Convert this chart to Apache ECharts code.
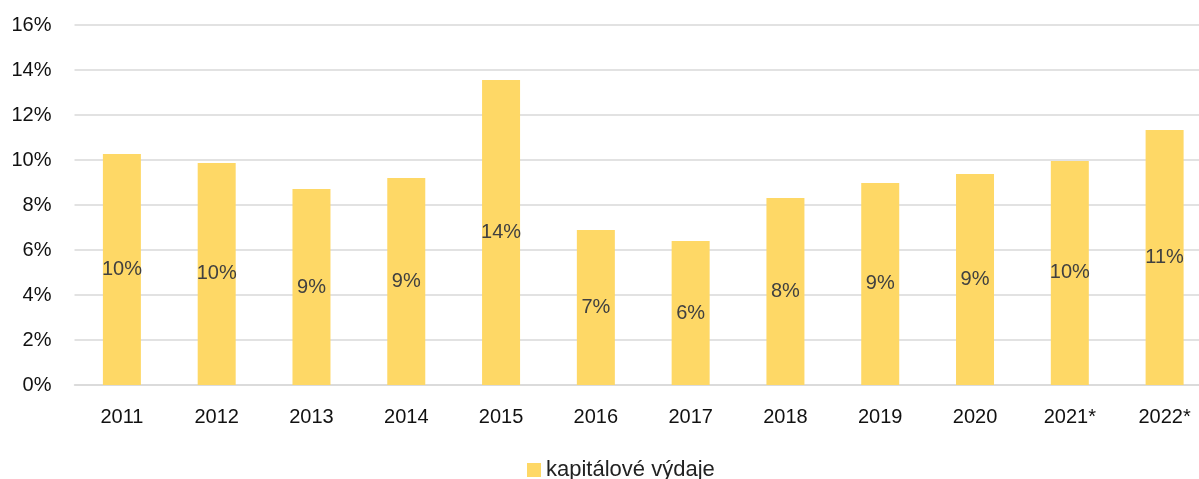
<!DOCTYPE html>
<html>
<head>
<meta charset="utf-8">
<script src="https://cdn.jsdelivr.net/npm/echarts@6/dist/echarts.min.js"></script>
<style>
  html, body { margin: 0; padding: 0; background: #fff; overflow: hidden; }
  /* plocha grafu v originále přesahuje vpravo za okraj obrázku */
  #chart { width: 1212px; height: 479px; }
</style>
</head>
<body>
<div id="chart"></div>
<script>
// roky (2021 a 2022 odhad)
var years = ['2011', '2012', '2013', '2014', '2015', '2016', '2017', '2018', '2019', '2020', '2021*', '2022*'];
// podíl kapitálových výdajů v %
var capex = [10.27, 9.87, 8.71, 9.2, 13.56, 6.89, 6.4, 8.31, 8.98, 9.38, 9.96, 11.33];
var seriesName = 'kapitálové výdaje';

var font = '"Liberation Sans", Arial, sans-serif';

var myChart = echarts.init(document.getElementById('chart'));
myChart.setOption({
    animation: false,
    textStyle: { fontFamily: font },
    grid: { left: 74.5, right: 0, top: 25, bottom: 94, containLabel: false },
    legend: {
        top: 459,
        left: 527,
        data: [seriesName],
        icon: 'rect',
        itemWidth: 14,
        itemHeight: 14,
        itemGap: 6,
        padding: 0,
        textStyle: { fontSize: 22, color: '#222', fontFamily: font }
    },
    xAxis: {
        type: 'category',
        data: years,
        axisLine: { lineStyle: { color: '#d9d9d9', width: 1.5 } },
        axisTick: { show: false },
        axisLabel: { fontSize: 20, color: '#111', margin: 22, fontFamily: font }
    },
    yAxis: {
        type: 'value',
        min: 0,
        max: 16,
        interval: 2,
        axisLine: { show: false },
        axisTick: { show: false },
        splitLine: { lineStyle: { color: '#d9d9d9', width: 1.5 } },
        axisLabel: { fontSize: 20, color: '#111', margin: 23, formatter: '{value}%', fontFamily: font }
    },
    series: [{
        name: seriesName,
        type: 'bar',
        data: capex,
        barWidth: 38,
        itemStyle: { color: '#FED866' },
        label: {
            show: true,
            position: 'inside',
            fontSize: 20,
            color: '#404040',
            fontFamily: font,
            formatter: function (p) { return Math.round(p.value) + '%'; }
        }
    }]
});
</script>
</body>
</html>
